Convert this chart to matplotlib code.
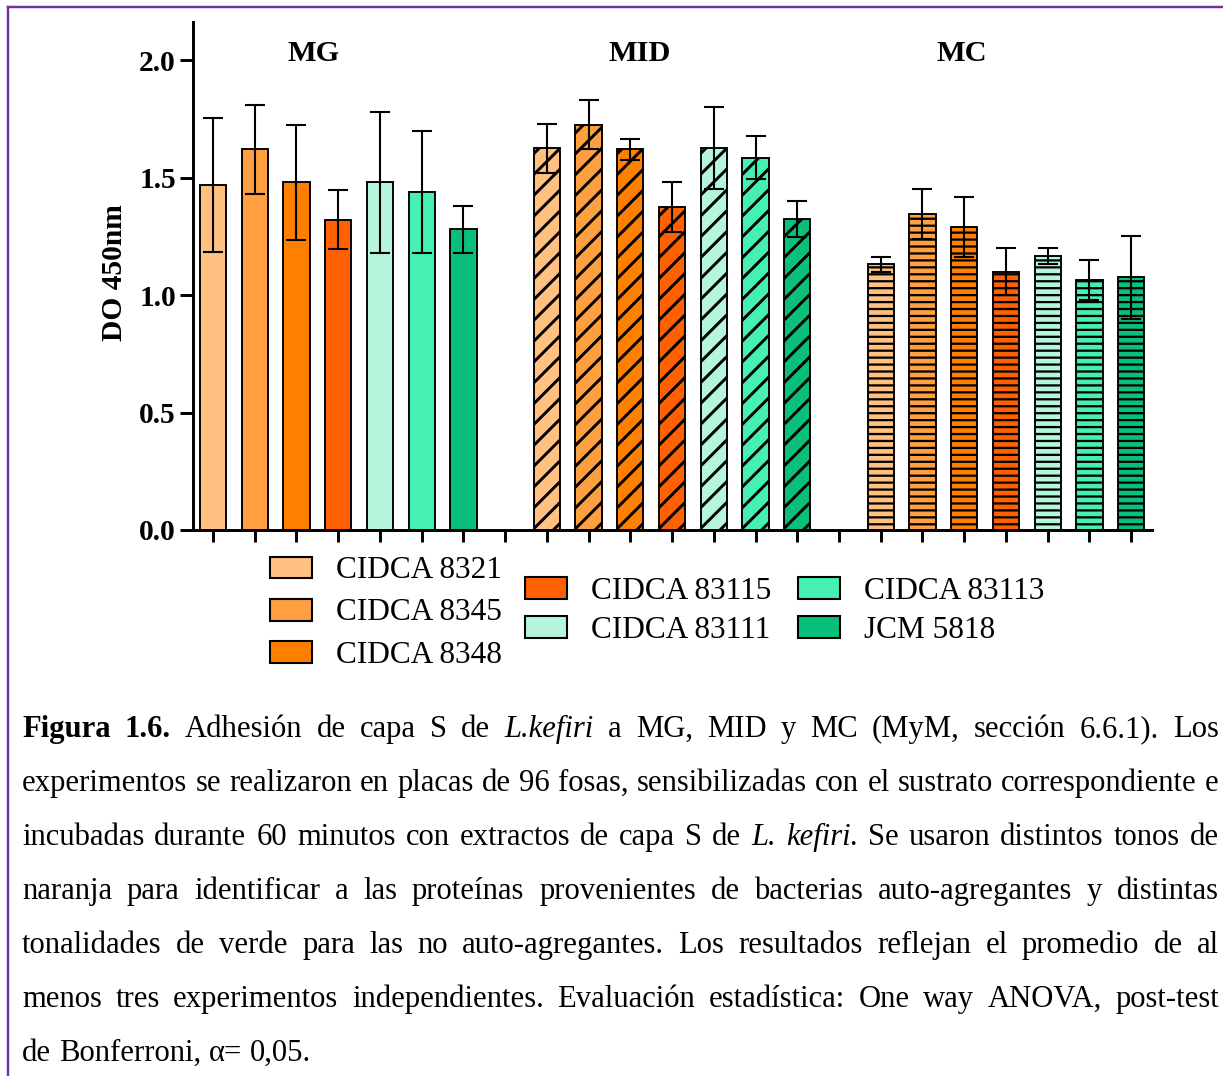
import matplotlib.pyplot as plt
from matplotlib.patches import Patch
from matplotlib.lines import Line2D
import numpy as np

# strains / colours
strains = ["CIDCA 8321", "CIDCA 8345", "CIDCA 8348", "CIDCA 83115",
           "CIDCA 83111", "CIDCA 83113", "JCM 5818"]
colors = ["#FFC080", "#FFA040", "#FF8000", "#FF6000",
          "#B4F5DC", "#45F0B0", "#0ABF7A"]
groups = ["MG", "MID", "MC"]

# DO 450nm, mean and error for each substrate
mg_mean = [1.47, 1.62, 1.48, 1.32, 1.48, 1.44, 1.28]
mg_err = [0.285, 0.19, 0.245, 0.125, 0.30, 0.26, 0.10]
mid_mean = [1.625, 1.725, 1.62, 1.375, 1.625, 1.585, 1.325]
mid_err = [0.105, 0.105, 0.045, 0.105, 0.175, 0.09, 0.077]
mc_mean = [1.13, 1.345, 1.29, 1.10, 1.165, 1.065, 1.075]
mc_err = [0.03, 0.105, 0.128, 0.10, 0.035, 0.085, 0.175]

yticks = [0.0, 0.5, 1.0, 1.5, 2.0]

caption = [
    [("Figura 1.6.", "bold"), ("Adhesión de capa S de", "normal"), ("L.kefiri", "italic"),
     ("a MG, MID y MC (MyM, sección 6.6.1). Los", "normal")],
    [("experimentos se realizaron en placas de 96 fosas, sensibilizadas con el sustrato correspondiente e", "normal")],
    [("incubadas durante 60 minutos con extractos de capa S de", "normal"), ("L. kefiri.", "italic"),
     ("Se usaron distintos tonos de", "normal")],
    [("naranja para identificar a las proteínas provenientes de bacterias auto-agregantes y distintas", "normal")],
    [("tonalidades de verde para las no auto-agregantes. Los resultados reflejan el promedio de al", "normal")],
    [("menos tres experimentos independientes. Evaluación estadística: One way ANOVA, post-test", "normal")],
    [("de Bonferroni, α= 0,05.", "normal")],
]

W, H = 1223, 1076
DPI = 125
SERIF = "Liberation Serif"

fig = plt.figure(figsize=(W / DPI, H / DPI), dpi=DPI)
ax = fig.add_axes([193 / W, 1 - 530 / H, (1152 - 193) / W, (530 - 22) / H])

means = [mg_mean, mid_mean, mc_mean]
errs = [mg_err, mid_err, mc_err]
hatches = [None, "//", "---"]
hatch_lw = [1.5, 1.7, 1.3]
for g in range(3):
    x = np.arange(7) + 8 * g
    with plt.rc_context({"hatch.linewidth": hatch_lw[g]}):
        ax.bar(x, means[g], width=0.63, color=colors, edgecolor="black",
               linewidth=1.1, hatch=hatches[g], zorder=2)
    ax.errorbar(x, means[g], yerr=errs[g], fmt="none", ecolor="black",
                elinewidth=1.2, capsize=5.8, capthick=1.2, zorder=3)

# group labels
group_x = [2.4, 10.23, 17.94]
for gx, name in zip(group_x, groups):
    ax.text(gx, 2.03, name, ha="center", va="center", fontsize=17.5,
            fontweight="bold", family=SERIF)

ax.set_xlim(-0.48, 22.5)
ax.set_ylim(0, 2.162)
ax.set_xticks(range(23))
ax.set_xticklabels([])
ax.set_yticks(yticks)
ax.set_yticklabels([f"{v:.1f}" for v in yticks], fontsize=17, fontweight="bold",
                   family=SERIF)
ax.tick_params(axis="x", length=7, width=1.7, direction="out")
ax.tick_params(axis="y", length=7.5, width=1.7, direction="out", pad=2.3)
for s in ["top", "right"]:
    ax.spines[s].set_visible(False)
for s in ["left", "bottom"]:
    ax.spines[s].set_linewidth(1.7)

fig.text(114 / W, 1 - 273 / H, "DO 450nm", rotation=90, ha="center", va="center",
         fontsize=17, fontweight="bold", family=SERIF)

# legend in three columns
cols = [[0, 1, 2], [3, 4], [5, 6]]
anchors = [(270, 613), (525, 611), (798, 611)]
spacing = [0.42, 0.33, 0.33]
for idx, (px, py), sp in zip(cols, anchors, spacing):
    handles = [Patch(facecolor=colors[i], edgecolor="black", linewidth=1.2,
                     label=strains[i]) for i in idx]
    fig.legend(handles=handles, loc="center left", bbox_to_anchor=(px / W, 1 - py / H),
               frameon=False, prop=dict(family=SERIF, size=18),
               handlelength=1.35, handleheight=0.7, handletextpad=0.75,
               labelspacing=sp, borderpad=0, borderaxespad=0)

# purple frame
frame_c = "#7030A0"
fig.add_artist(Line2D([8 / W, 1], [1 - 7 / H, 1 - 7 / H], color=frame_c, lw=1.4,
                      transform=fig.transFigure))
fig.add_artist(Line2D([8 / W, 8 / W], [0, 1 - 7 / H], color=frame_c, lw=1.4,
                      transform=fig.transFigure))

# caption, justified
renderer = fig.canvas.get_renderer()
left, right = 22, 1219
probe = fig.text(0, 0, caption[1][0][0], fontsize=20, family=SERIF)
w2 = probe.get_window_extent(renderer).width
probe.remove()
cap_size = 20 * 1192 / w2
space = 0.25 * cap_size * DPI / 72

baselines = [737 + 54 * i for i in range(len(caption))]
for li, (line, base) in enumerate(zip(caption, baselines)):
    tokens = [(w, st) for seg, st in line for w in seg.split()]
    texts = []
    for w, st in tokens:
        t = fig.text(0, 1 - base / H, w, fontsize=cap_size, family=SERIF, va="baseline",
                     ha="left", fontweight="bold" if st == "bold" else "normal",
                     fontstyle="italic" if st == "italic" else "normal")
        texts.append(t)
    widths = [t.get_window_extent(renderer).width for t in texts]
    if li < len(caption) - 1:
        gap = (right - left - sum(widths)) / (len(texts) - 1)
    else:
        gap = space
    x = left
    for t, w in zip(texts, widths):
        t.set_x(x / W)
        x += w + gap

fig.savefig("out.png", dpi=DPI)
